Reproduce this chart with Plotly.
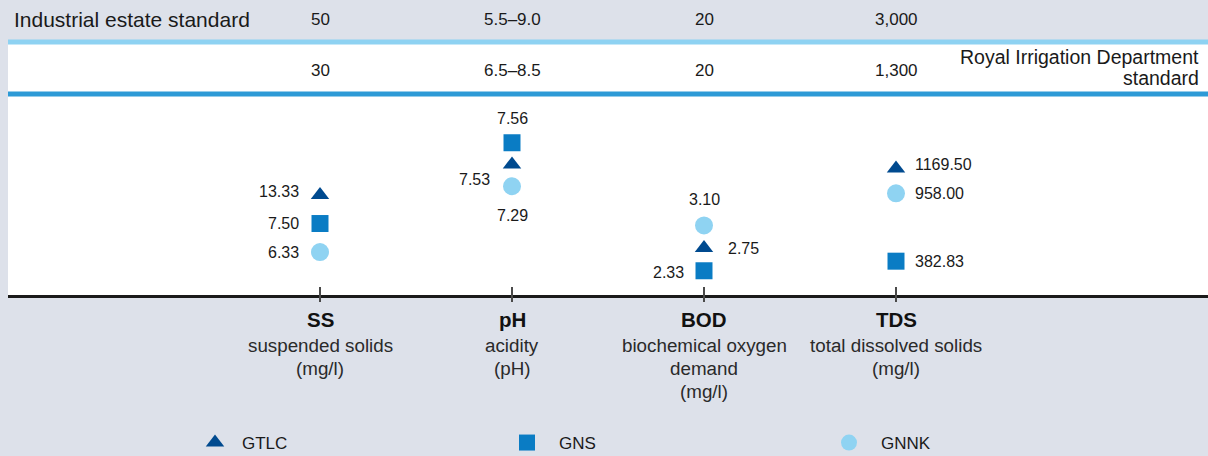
import plotly.graph_objects as go

# ---------------- data ----------------
categories = ["SS", "pH", "BOD", "TDS"]
cat_desc = [["suspended solids"], ["acidity"], ["biochemical oxygen", "demand"], ["total dissolved solids"]]
cat_unit = ["(mg/l)", "(pH)", "(mg/l)", "(mg/l)"]
industrial_std = ["50", "5.5–9.0", "20", "3,000"]
rid_std = ["30", "6.5–8.5", "20", "1,300"]

series_names = ["GTLC", "GNS", "GNNK"]
gtlc = [13.33, 7.53, 2.75, 1169.50]
gns = [7.50, 7.56, 2.33, 382.83]
gnnk = [6.33, 7.29, 3.10, 958.00]
series_values = [gtlc, gns, gnnk]

# ---------------- styles ----------------
FONT = "Liberation Sans, Arial, Helvetica, sans-serif"
TXT = "#1a1a1a"
BG = "#dde1ea"
symbols = ["triangle-up", "square", "circle"]
colors = ["#004a8f", "#0a7cc4", "#8fd3f2"]
msizes = [16, 17, 18]
legend_keys = ["legend", "legend2", "legend3"]
legend_x_px = [188, 495, 817]
legend_itemwidth = [44, 54, 54]

# per-category value axes (each column has its own scale)
axis_types = ["category", "category", "category", "linear"]
axis_ranges = [[-1.5, 7.28], [-5.0, 6.54], [-1.07, 10.01], [96, 2225]]
yrefs = ["y", "y2", "y3", "y4"]

# label placement per (series, category): xanchor, xshift, yshift
label_place = {
    ("GTLC", "SS"): ("right", -19, 3), ("GNS", "SS"): ("right", -19, 0), ("GNNK", "SS"): ("right", -19, 0),
    ("GTLC", "pH"): ("right", -20, -15), ("GNS", "pH"): ("center", 0, 24), ("GNNK", "pH"): ("center", 0, -29),
    ("GTLC", "BOD"): ("left", 22, 0), ("GNS", "BOD"): ("right", -18, -2), ("GNNK", "BOD"): ("center", 0, 26),
    ("GTLC", "TDS"): ("left", 17, 4), ("GNS", "TDS"): ("left", 17, 0), ("GNNK", "TDS"): ("left", 17, 0),
}

T, B, L, R = 44, 161, 8, 0
W, H = 1208, 456
PH = H - T - B
PW = W - L - R


def py(p):
    return (H - B - p) / PH


def pxp(p):
    return (p - L) / PW


def fmt(v):
    return f"{v:.2f}"


# category order for the per-column category axes (ascending by value)
cat_orders = [[fmt(v) for v in sorted(vs[i] for vs in series_values)] for i in range(len(categories))]


def ypos(i, v):
    """value as understood by column i's axis (trace data)"""
    return fmt(v) if axis_types[i] == "category" else v


def ypos_num(i, v):
    """numeric position on column i's axis (for annotations)"""
    return cat_orders[i].index(fmt(v)) if axis_types[i] == "category" else v


fig = go.Figure()

for s, (name, vals) in enumerate(zip(series_names, series_values)):
    for i, cat in enumerate(categories):
        fig.add_trace(go.Scatter(
            x=[cat], y=[ypos(i, vals[i])], yaxis=yrefs[i], mode="markers", name=name,
            legendgroup=name, showlegend=(i == 0), legend=legend_keys[s],
            marker=dict(symbol=symbols[s], color=colors[s], size=msizes[s], line=dict(width=0)),
            hoverinfo="skip",
        ))

annotations = []
# value labels
for s, (name, vals) in enumerate(zip(series_names, series_values)):
    for i, cat in enumerate(categories):
        v = vals[i]
        xa, xs, ys = label_place[(name, cat)]
        annotations.append(dict(
            x=i, y=ypos_num(i, v), xref="x", yref=yrefs[i], text=fmt(v), showarrow=False,
            xanchor=xa, yanchor="middle", xshift=xs, yshift=ys,
            font=dict(size=16, color=TXT, family=FONT)))

# standards rows
annotations.append(dict(x=pxp(12), y=py(19), xref="paper", yref="paper", text="Industrial estate standard",
                        showarrow=False, xanchor="left", yanchor="middle", font=dict(size=21, color=TXT, family=FONT)))
annotations.append(dict(x=pxp(1201), y=py(57.5), xref="paper", yref="paper", text="Royal Irrigation Department",
                        showarrow=False, xanchor="right", yanchor="middle", font=dict(size=19.5, color=TXT, family=FONT)))
annotations.append(dict(x=pxp(1201), y=py(77.5), xref="paper", yref="paper", text="standard",
                        showarrow=False, xanchor="right", yanchor="middle", font=dict(size=19.5, color=TXT, family=FONT)))
for i, cat in enumerate(categories):
    annotations.append(dict(x=i, y=py(19), xref="x", yref="paper", text=industrial_std[i], showarrow=False,
                            xanchor="center", yanchor="middle", font=dict(size=17, color=TXT, family=FONT)))
    annotations.append(dict(x=i, y=py(70), xref="x", yref="paper", text=rid_std[i], showarrow=False,
                            xanchor="center", yanchor="middle", font=dict(size=17, color=TXT, family=FONT)))
    # category labels under the axis
    annotations.append(dict(x=i, y=py(319.5), xref="x", yref="paper", text=f"<b>{cat}</b>", showarrow=False,
                            xanchor="center", yanchor="middle", font=dict(size=20.5, color="#111111", family=FONT)))
    lines = cat_desc[i] + [cat_unit[i]]
    for k, line in enumerate(lines):
        annotations.append(dict(x=i, y=py(345.5 + 23 * k), xref="x", yref="paper", text=line,
                                showarrow=False, xanchor="center", yanchor="middle",
                                font=dict(size=18.8, color="#2a2a2a", family=FONT)))

shapes = [
    dict(type="rect", xref="paper", yref="paper", x0=0, x1=1, y0=py(44.5), y1=py(39.5),
         fillcolor="#8ed2f2", line=dict(width=0), layer="above"),
    dict(type="rect", xref="paper", yref="paper", x0=0, x1=1, y0=py(96.5), y1=py(91.5),
         fillcolor="#2d9ad6", line=dict(width=0), layer="above"),
]
for i, cat in enumerate(categories):
    shapes.append(dict(type="line", xref="x", yref="paper", x0=i, x1=i, y0=py(287), y1=py(302),
                       line=dict(color="#4a4a4a", width=2), layer="above"))

layout = dict(
    width=W, height=H,
    margin=dict(l=L, r=R, t=T, b=B, pad=0, autoexpand=False),
    paper_bgcolor=BG, plot_bgcolor="#ffffff",
    font=dict(family=FONT, color=TXT),
    xaxis=dict(type="category", categoryorder="array", categoryarray=categories, range=[-1.625, 4.625],
               showgrid=False, zeroline=False, showticklabels=False, ticks="",
               showline=True, linecolor="#1a1a1a", linewidth=3, fixedrange=True),
    annotations=annotations, shapes=shapes,
    hovermode=False,
)
for i in range(4):
    key = "yaxis" if i == 0 else f"yaxis{i + 1}"
    ax = dict(type=axis_types[i], range=axis_ranges[i], visible=False, showgrid=False,
              zeroline=False, fixedrange=True, domain=[0, 1])
    if axis_types[i] == "category":
        ax["categoryorder"] = "array"
        ax["categoryarray"] = cat_orders[i]
    if i > 0:
        ax["overlaying"] = "y"
    layout[key] = ax
for s, lk in enumerate(legend_keys):
    layout[lk] = dict(x=pxp(legend_x_px[s]), xanchor="left", y=py(443), yanchor="middle",
                      orientation="h", bgcolor="rgba(0,0,0,0)", borderwidth=0,
                      font=dict(size=17, color=TXT, family=FONT), itemwidth=legend_itemwidth[s])

fig.update_layout(**layout)
fig.write_html("out.html", config={"displayModeBar": False},
               post_script="document.body.style.margin='0';document.body.style.background='" + BG + "';")
